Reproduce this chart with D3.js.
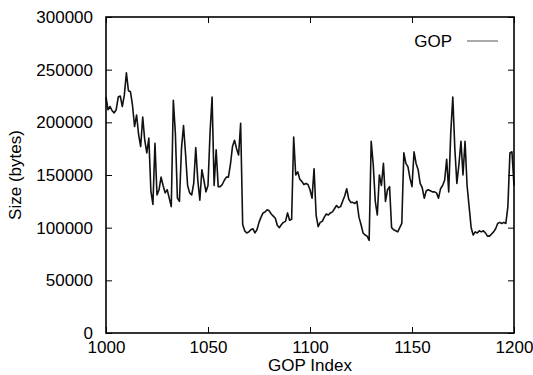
<!DOCTYPE html>
<html>
<head>
<meta charset="utf-8">
<script src="https://cdn.jsdelivr.net/npm/d3@7"></script>
<style>
  body { margin: 0; background: #fff; }
  svg { display: block; font-family: "Liberation Sans", Arial, sans-serif; }
</style>
</head>
<body>
<svg id="chart"></svg>
<script>
/* GOP size trace, gnuplot look: boxed frame, ticks pointing inward on all sides */
const WIDTH = 533;
const HEIGHT = 375;
const margin = {left: 106, right: 19, top: 17, bottom: 42};

const firstIndex = 1000;
const xTicks = [1000, 1050, 1100, 1150, 1200];
const yTicks = [0, 50000, 100000, 150000, 200000, 250000, 300000];
const seriesName = 'GOP';
// sizes in bytes, one per GOP from 1000 to 1200
const gopSizes = [
    224000, 212000, 215000, 211000, 209000, 212000, 224000, 225000, 215000, 226000,
    247000, 230000, 229000, 216000, 196000, 207000, 188000, 177000, 205000, 183000,
    171000, 185000, 135000, 122000, 180000, 131000, 136000, 148000, 140000, 133000,
    136000, 128000, 120000, 221000, 190000, 128000, 125000, 175000, 197000, 170000,
    140000, 133000, 131000, 142000, 176000, 145000, 126000, 155000, 145000, 134000,
    140000, 190000, 224000, 140000, 174000, 139000, 139000, 141000, 145000, 148000,
    148000, 160000, 177000, 183000, 175000, 169000, 199000, 103000, 97000, 95000,
    96000, 98000, 99000, 95000, 98000, 105000, 110000, 114000, 115000, 117000,
    116000, 113000, 111000, 109000, 102000, 100000, 103000, 105000, 106000, 114000,
    107000, 108000, 186000, 150000, 153000, 146000, 144000, 141000, 142000, 141000,
    136000, 128000, 156000, 112000, 101000, 105000, 106000, 110000, 113000, 112000,
    114000, 115000, 118000, 121000, 119000, 120000, 125000, 130000, 137000, 127000,
    124000, 124000, 123000, 125000, 110000, 103000, 95000, 93000, 92000, 88000,
    182000, 160000, 125000, 112000, 150000, 140000, 161000, 125000, 136000, 139000,
    100000, 98000, 97000, 96000, 100000, 104000, 171000, 161000, 158000, 147000,
    139000, 172000, 161000, 155000, 142000, 138000, 128000, 135000, 136000, 135000,
    134000, 134000, 133000, 128000, 137000, 140000, 145000, 165000, 134000, 190000,
    224000, 175000, 142000, 160000, 182000, 150000, 182000, 140000, 120000, 100000,
    93000, 96000, 95000, 97000, 96000, 97000, 95000, 92000, 92000, 94000,
    96000, 99000, 104000, 105000, 104000, 105000, 104000, 120000, 171000, 172000,
    140000
];

function makeChart(selector) {
    const innerW = WIDTH - margin.left - margin.right;
    const innerH = HEIGHT - margin.top - margin.bottom;

    const svg = d3.select(selector)
        .attr('width', WIDTH)
        .attr('height', HEIGHT);

    const x = d3.scaleLinear().domain([1000, 1200]).range([0, innerW]);
    const y = d3.scaleLinear().domain([0, 300000]).range([innerH, 0]);

    const g = svg.append('g').attr('transform', `translate(${margin.left},${margin.top})`);

    // inward ticks on all four sides, labels only on left and bottom
    const TICK = 6;
    const bottom = g.append('g').attr('transform', `translate(0,${innerH})`)
        .call(d3.axisBottom(x).tickValues(xTicks).tickSize(-TICK).tickPadding(8).tickFormat(d3.format('d')));
    const top = g.append('g')
        .call(d3.axisTop(x).tickValues(xTicks).tickSize(-TICK).tickFormat(''));
    const left = g.append('g')
        .call(d3.axisLeft(y).tickValues(yTicks).tickSize(-TICK).tickPadding(13).tickFormat(d3.format('d')));
    const right = g.append('g').attr('transform', `translate(${innerW},0)`)
        .call(d3.axisRight(y).tickValues(yTicks).tickSize(-TICK).tickFormat(''));

    for (let axis of [bottom, top, left, right]) {
        axis.select('.domain').remove();
        axis.selectAll('line').attr('stroke', '#000').attr('stroke-width', 1);
        axis.selectAll('text').attr('fill', '#000').style('font-size', '17px')
            .style('font-family', '"Liberation Sans", Arial, sans-serif');
    }

    // the trace
    const line = d3.line()
        .x((d, i) => x(firstIndex + i))
        .y(d => y(d));
    g.append('path')
        .datum(gopSizes)
        .attr('fill', 'none')
        .attr('stroke', '#111')
        .attr('stroke-width', 1.6)
        .attr('stroke-linejoin', 'round')
        .attr('d', line);

    // frame
    g.append('rect')
        .attr('width', innerW)
        .attr('height', innerH)
        .attr('fill', 'none')
        .attr('stroke', '#000')
        .attr('stroke-width', 1.6);

    // legend
    g.append('text')
        .attr('x', 346)
        .attr('y', 30)
        .attr('text-anchor', 'end')
        .style('font-size', '17px')
        .text(seriesName);
    g.append('line')
        .attr('x1', 361).attr('x2', 392)
        .attr('y1', 24).attr('y2', 24)
        .attr('stroke', '#555')
        .attr('stroke-width', 1);

    // axis titles
    svg.append('text')
        .attr('x', margin.left + innerW / 2)
        .attr('y', 371)
        .attr('text-anchor', 'middle')
        .style('font-size', '17px')
        .text('GOP Index');
    svg.append('text')
        .attr('transform', `translate(21,${margin.top + innerH / 2}) rotate(-90)`)
        .attr('text-anchor', 'middle')
        .style('font-size', '17px')
        .text('Size (bytes)');

    return svg;
}

makeChart('#chart');
</script>
</body>
</html>
